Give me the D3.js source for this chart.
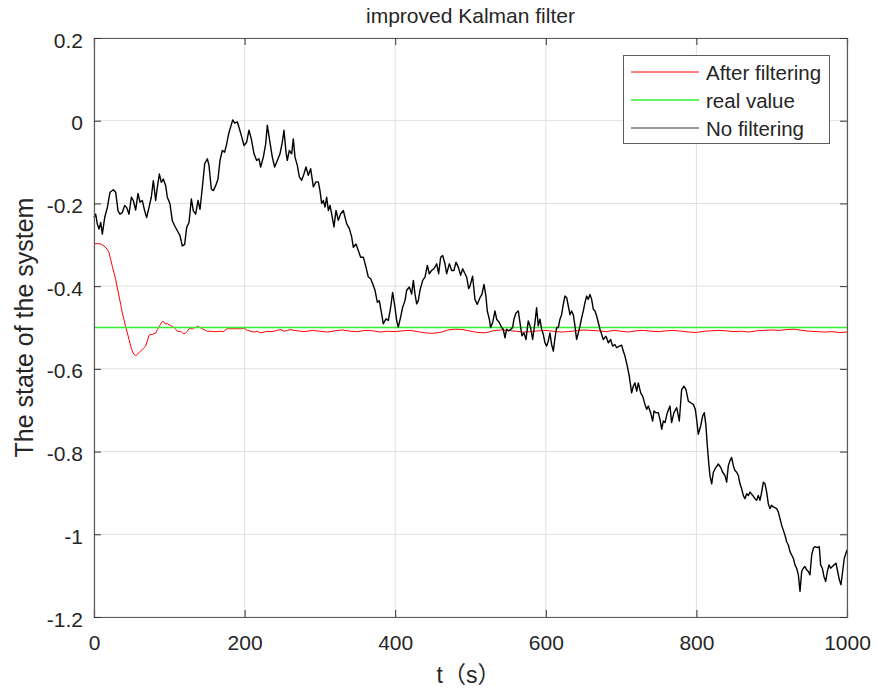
<!DOCTYPE html>
<html>
<head>
<meta charset="utf-8">
<script src="https://cdn.jsdelivr.net/npm/d3@7"></script>
<style>
  html, body { margin: 0; padding: 0; background: #fff; }
  svg { display: block; }
  text { font-family: "Liberation Sans", Arial, "Noto Sans CJK SC", sans-serif; fill: #262626; }
</style>
</head>
<body>
<svg id="chart" width="878" height="688"></svg>
<script>
const chartTitle = "improved Kalman filter";
const xLabel = "t（s）";
const yLabel = "The state of the system";
const seriesNames = ["After filtering", "real value", "No filtering"];
const xTicks = [0, 200, 400, 600, 800, 1000];
const yTicks = [0.2, 0, -0.2, -0.4, -0.6, -0.8, -1, -1.2];
const yTickLabels = ["0.2", "0", "-0.2", "-0.4", "-0.6", "-0.8", "-1", "-1.2"];

// real value
const realT = [0, 1000];
const realV = [-0.5, -0.5];

// After filtering (red)
const filtT = [0,4.4,8.9,13.3,17.7,19.9,22.1,24.3,26.6,28.8,31,33.2,35.4,37.6,39.8,42.1,44.3,46.5,48.7,50.9,53.1,55.3,57.5,59.8,62,64.2,66.4,68.6,70.8,73,75.3,77.5,79.7,81.9,84.1,86.3,88.5,90.7,93,95.2,97.4,99.6,101.8,104,106.2,108.5,110.7,112.9,115.1,117.3,119.5,121.7,124,126.2,128.4,130.6,132.8,135,137.2,139.4,141.7,143.9,146.1,148.3,150.5,155,159.4,163.8,168.2,172.6,174.8,177.1,181.5,186,190.4,194.8,199.2,203.6,208.1,212.5,216.9,221.3,225.8,230.2,234.6,239,243.5,247.9,252.3,256.7,261.2,265.6,
  270,280,290,300,310,320,330,340,350,360,370,380,390,400,410,420,430,440,450,460,470,480,490,500,510,520,530,540,550,560,570,580,590,600,610,620,630,640,650,660,670,680,690,700,710,720,730,740,750,760,770,780,790,800,810,820,830,840,850,860,870,880,890,900,910,920,930,940,950,960,970,980,990,1000];
const filtV = [-0.298,-0.297,-0.298,-0.303,-0.311,-0.319,-0.335,-0.352,-0.368,-0.384,-0.404,-0.424,-0.444,-0.465,-0.481,-0.498,-0.513,-0.529,-0.545,-0.557,-0.565,-0.568,-0.565,-0.561,-0.557,-0.553,-0.549,-0.545,-0.533,-0.519,-0.517,-0.517,-0.515,-0.513,-0.505,-0.498,-0.492,-0.485,-0.487,-0.492,-0.49,-0.494,-0.494,-0.499,-0.5,-0.504,-0.509,-0.51,-0.509,-0.513,-0.515,-0.513,-0.509,-0.503,-0.502,-0.504,-0.501,-0.5,-0.497,-0.499,-0.501,-0.503,-0.505,-0.507,-0.509,-0.509,-0.51,-0.51,-0.509,-0.51,-0.505,-0.503,-0.503,-0.503,-0.503,-0.503,-0.501,-0.507,-0.509,-0.511,-0.509,-0.513,-0.511,-0.509,-0.51,-0.509,-0.507,-0.505,-0.509,-0.507,-0.505,-0.507,
  -0.508,-0.51,-0.507,-0.509,-0.511,-0.508,-0.506,-0.509,-0.51,-0.507,-0.508,-0.511,-0.509,-0.51,-0.508,-0.507,-0.51,-0.513,-0.514,-0.512,-0.506,-0.504,-0.505,-0.509,-0.512,-0.513,-0.508,-0.506,-0.507,-0.509,-0.511,-0.51,-0.508,-0.507,-0.509,-0.511,-0.51,-0.508,-0.506,-0.507,-0.508,-0.51,-0.507,-0.509,-0.511,-0.508,-0.507,-0.509,-0.51,-0.508,-0.507,-0.509,-0.511,-0.512,-0.509,-0.508,-0.507,-0.508,-0.51,-0.509,-0.511,-0.508,-0.507,-0.506,-0.507,-0.505,-0.504,-0.507,-0.509,-0.51,-0.511,-0.51,-0.512,-0.511];

// No filtering (black)
const rawT = [0,2.2,4.4,6.6,8.9,11.1,14.2,17.7,21.2,25.7,28.8,31.9,34.5,37.6,40.7,43.4,46.5,49.6,52.2,55.3,58.4,61.1,64.2,67.3,69.9,73,76.1,78.8,81.9,84.1,86.8,89.4,92.1,95.2,97.4,100.9,104,107.1,110.7,114.2,117.3,120.4,123.1,126.2,129.3,131.9,135,138.1,140.8,143.9,147,150.5,152.7,155.8,158.5,161.6,164.7,167.3,170.4,173.5,176.2,178.8,181.5,184.2,186.8,190.4,193,195.7,199.2,202.7,205.8,208.9,212.5,216,219.1,221.3,224.9,228,230.2,233.3,236.8,239.9,243.5,247,250.1,252.3,
  255,256.7,259.4,262.5,264.7,266.9,270,272.7,275.8,278.9,281.5,284.6,287.7,291.3,294.8,297.9,300.1,302.3,304.5,306.8,309,311.2,313.4,315.6,318.7,321.4,324.5,327.6,331.1,333.3,335.5,339.1,342.2,344.4,347.9,351,354.1,357.7,361.2,364.3,367.4,370.1,373.2,376.3,378.9,382,384.2,387.8,390.9,394,396.6,399.7,401.9,404.1,407.2,409.9,413,415.2,418.8,421.9,424.1,426.3,428.5,430.7,432.9,436.5,439.6,442.7,445.3,448.4,451.5,455.1,457.7,460.4,463,466.1,468.3,471.9,475,478.1,480.7,483.8,486.9,489.6,492.7,494.9,497.6,
  499.3,502.8,505.9,509,512.6,515.2,517.9,520.5,522.3,525,526.7,529.4,532.5,534.7,538.2,541.3,543.5,545.8,548,550.2,553.3,555.9,557.7,560.4,563.5,565.7,568.3,571,573.7,576.7,579.8,582.5,585.6,587.8,590,592.2,594.5,596.7,598.9,601.1,603.3,605.5,607.7,610,612.2,614.4,616.6,618.8,621,623.2,625.4,627.7,629.9,632.1,634.3,636.5,638.7,640.9,643.2,645.4,647.6,649.8,652,654.2,656.4,658.6,660.9,663.1,665.3,667.5,669.7,671.9,674.1,676.3,679.9,683,686.1,688.7,691.8,694.1,697.6,700.7,702.9,705.1,
  708.3,710.9,714,716.2,718.4,720.7,722.9,726,728.6,731.7,733.9,736.1,739.2,741.9,743.7,746.3,749.4,751.6,753.9,756.1,758.3,761.4,764.9,767.1,770.2,773.8,777.3,780.4,783.5,786.2,789.3,792.4,795.9,798.6,800.3,802.5,805.7,808.3,810.5,812.7,814.5,816.3,818,820.3,822.5,826,829.1,832.2,834.9,838,840.2,842.4,844.6,846.8,849,851.2,853.5,855.7,857.9,860.1,862.3,864.5,866.7,869,871.2,874.7,877.8,880,882.2,884.4,886.7,888.9,891.1,893.3,895.5,897.7,899.9,902.2,906.6,908.8,911,913.2,915.4,917.6,919.9,922.1,924.3,926.5,928.7,930.9,933.1,935.4,937.6,939.8,942,944.2,946.4,948.6,950.8,953.1,955.3,957.5,960.6,963.2,965,967.2,969.4,971.7,973.9,976.1,978.3,980.5,982.7,985.4,987.6,989.8,992,994.2,996.4,998.6,1000];
const rawV = [-0.234,-0.226,-0.25,-0.262,-0.246,-0.274,-0.234,-0.21,-0.173,-0.167,-0.173,-0.218,-0.226,-0.222,-0.205,-0.21,-0.226,-0.185,-0.193,-0.216,-0.176,-0.197,-0.193,-0.218,-0.234,-0.21,-0.185,-0.145,-0.193,-0.161,-0.129,-0.149,-0.141,-0.157,-0.185,-0.201,-0.242,-0.254,-0.266,-0.278,-0.303,-0.299,-0.258,-0.246,-0.189,-0.218,-0.226,-0.193,-0.214,-0.161,-0.104,-0.092,-0.108,-0.165,-0.169,-0.157,-0.141,-0.096,-0.072,-0.076,-0.056,-0.032,-0.015,0.002,-0.006,-0.003,-0.019,-0.036,-0.06,-0.052,-0.023,-0.044,-0.08,-0.096,-0.092,-0.112,-0.088,-0.056,-0.011,-0.048,-0.088,-0.112,-0.096,-0.08,-0.052,-0.023,
  -0.076,-0.096,-0.072,-0.08,-0.044,-0.088,-0.108,-0.136,-0.144,-0.128,-0.112,-0.132,-0.116,-0.16,-0.148,-0.148,-0.169,-0.2,-0.193,-0.209,-0.185,-0.217,-0.205,-0.225,-0.257,-0.217,-0.241,-0.225,-0.217,-0.233,-0.249,-0.261,-0.281,-0.306,-0.298,-0.314,-0.33,-0.33,-0.354,-0.378,-0.382,-0.394,-0.41,-0.439,-0.435,-0.467,-0.491,-0.479,-0.483,-0.451,-0.415,-0.451,-0.483,-0.499,-0.475,-0.451,-0.435,-0.41,-0.402,-0.419,-0.386,-0.419,-0.443,-0.435,-0.41,-0.386,-0.378,-0.35,-0.37,-0.362,-0.358,-0.346,-0.37,-0.33,-0.326,-0.346,-0.37,-0.346,-0.362,-0.362,-0.342,-0.354,-0.374,-0.358,-0.37,-0.378,-0.406,
  -0.4,-0.376,-0.432,-0.444,-0.428,-0.42,-0.396,-0.424,-0.46,-0.48,-0.5,-0.488,-0.46,-0.48,-0.488,-0.5,-0.504,-0.525,-0.504,-0.508,-0.505,-0.5,-0.48,-0.465,-0.46,-0.488,-0.52,-0.513,-0.529,-0.484,-0.5,-0.529,-0.488,-0.452,-0.496,-0.48,-0.504,-0.517,-0.537,-0.545,-0.533,-0.513,-0.541,-0.557,-0.525,-0.5,-0.5,-0.48,-0.469,-0.444,-0.424,-0.428,-0.448,-0.469,-0.46,-0.469,-0.496,-0.529,-0.513,-0.496,-0.477,-0.46,-0.44,-0.424,-0.432,-0.42,-0.432,-0.456,-0.46,-0.472,-0.488,-0.504,-0.516,-0.529,-0.521,-0.537,-0.529,-0.545,-0.541,-0.549,-0.545,-0.543,-0.557,-0.569,
  -0.594,-0.618,-0.658,-0.642,-0.634,-0.654,-0.634,-0.658,-0.666,-0.686,-0.698,-0.69,-0.706,-0.726,-0.702,-0.706,-0.706,-0.722,-0.746,-0.726,-0.73,-0.706,-0.69,-0.73,-0.706,-0.694,-0.726,-0.65,-0.642,-0.65,-0.678,-0.682,-0.686,-0.698,-0.722,-0.758,-0.738,-0.714,-0.706,-0.738,-0.786,-0.826,-0.858,-0.878,-0.85,-0.838,-0.83,-0.838,-0.85,-0.858,-0.874,-0.834,-0.822,-0.814,-0.834,-0.846,-0.85,-0.858,-0.878,-0.89,-0.906,-0.914,-0.902,-0.906,-0.898,-0.906,-0.914,-0.918,-0.906,-0.918,-0.898,-0.874,-0.878,-0.898,-0.926,-0.938,-0.93,-0.934,-0.938,-0.946,-0.962,-0.978,-0.99,-1.002,-1.018,-1.026,-1.042,-1.05,-1.058,-1.074,-1.082,-1.098,-1.138,-1.09,-1.082,-1.078,-1.086,-1.09,-1.098,-1.05,-1.034,-1.03,-1.032,-1.03,-1.074,-1.082,-1.102,-1.114,-1.09,-1.074,-1.082,-1.078,-1.074,-1.07,-1.09,-1.11,-1.122,-1.09,-1.058,-1.046,-1.038];

const W = 878, H = 688;
const margin = { left: 94, top: 38, right: 31, bottom: 71 };
const iw = W - margin.left - margin.right;
const ih = H - margin.top - margin.bottom;

const svg = d3.select("#chart");
const x = d3.scaleLinear().domain([0, 1000]).range([margin.left, margin.left + iw]);
const y = d3.scaleLinear().domain([-1.2, 0.2]).range([margin.top + ih, margin.top]);

// grid
const grid = svg.append("g");
grid.selectAll("line.gx").data(xTicks).enter().append("line")
  .attr("x1", d => x(d)).attr("x2", d => x(d))
  .attr("y1", margin.top).attr("y2", margin.top + ih)
  .attr("stroke", "#dfdfdf").attr("stroke-width", 1);
grid.selectAll("line.gy").data(yTicks).enter().append("line")
  .attr("x1", margin.left).attr("x2", margin.left + iw)
  .attr("y1", d => y(d)).attr("y2", d => y(d))
  .attr("stroke", "#dfdfdf").attr("stroke-width", 1);

// series
const line = d3.line().x(d => x(d[0])).y(d => y(d[1]));
const zip = (a, b) => a.map((v, i) => [v, b[i]]);
const plot = svg.append("g");
plot.append("path").datum(zip(filtT, filtV)).attr("d", line)
  .attr("fill", "none").attr("stroke", "#ff0000").attr("stroke-width", 1);
plot.append("path").datum(zip(realT, realV)).attr("d", line)
  .attr("fill", "none").attr("stroke", "#33ee33").attr("stroke-width", 1.6);
plot.append("path").datum(zip(rawT, rawV)).attr("d", line)
  .attr("fill", "none").attr("stroke", "#000").attr("stroke-width", 1.4).attr("stroke-linejoin", "round");

// axes box and ticks
const axisColor = "#5c5c5c";
const tl = 7;
const axB = d3.axisBottom(x).tickValues(xTicks).tickSize(-tl).tickFormat(d3.format("d"));
const axT = d3.axisTop(x).tickValues(xTicks).tickSize(-tl).tickFormat("");
const axL = d3.axisLeft(y).tickValues(yTicks).tickSize(-tl).tickFormat((d, i) => yTickLabels[i]);
const axR = d3.axisRight(y).tickValues(yTicks).tickSize(-tl).tickFormat("");

function styleAxis(g) {
  g.select(".domain").attr("stroke", axisColor).attr("stroke-width", 1.2);
  g.selectAll(".tick line").attr("stroke", "#333").attr("stroke-width", 1);
  g.selectAll(".tick text").attr("fill", "#262626")
    .style("font-family", '"Liberation Sans", Arial, sans-serif').style("font-size", "21px");
}
const gB = svg.append("g").attr("transform", `translate(0,${margin.top + ih})`).call(axB).call(styleAxis);
gB.selectAll(".tick text").attr("dy", null).attr("y", 33);
svg.append("g").attr("transform", `translate(0,${margin.top})`).call(axT).call(styleAxis);
const gL = svg.append("g").attr("transform", `translate(${margin.left},0)`).call(axL).call(styleAxis);
gL.selectAll(".tick text").attr("x", -11).attr("dy", null).attr("y", 9);
svg.append("g").attr("transform", `translate(${margin.left + iw},0)`).call(axR).call(styleAxis);

// title & labels
svg.append("text").attr("x", margin.left + iw / 2).attr("y", 23)
  .attr("text-anchor", "middle").style("font-size", "21px").text(chartTitle);
svg.append("text").attr("x", margin.left + iw / 2 - 2).attr("y", 683)
  .attr("text-anchor", "middle").style("font-size", "23px").text(xLabel);
svg.append("text").attr("transform", `translate(33,${margin.top + ih / 2}) rotate(-90)`)
  .attr("text-anchor", "middle").style("font-size", "25px").text(yLabel);

// legend
const colors = ["#ff0000", "#33ee33", "#333333"];
const lg = svg.append("g");
lg.append("rect").attr("x", 623.5).attr("y", 55.5).attr("width", 206).attr("height", 88)
  .attr("fill", "#fff").attr("stroke", "#5c5c5c").attr("stroke-width", 1);
const ly = d3.scalePoint().domain(seriesNames).range([72, 128]);
seriesNames.forEach((n, i) => {
  lg.append("line").attr("x1", 631).attr("x2", 699).attr("y1", ly(n)).attr("y2", ly(n))
    .attr("stroke", colors[i]).attr("stroke-width", i === 1 ? 1.6 : 1);
  lg.append("text").attr("x", 706).attr("y", ly(n) + 7.5).style("font-size", "20.5px").text(n);
});
</script>
</body>
</html>
